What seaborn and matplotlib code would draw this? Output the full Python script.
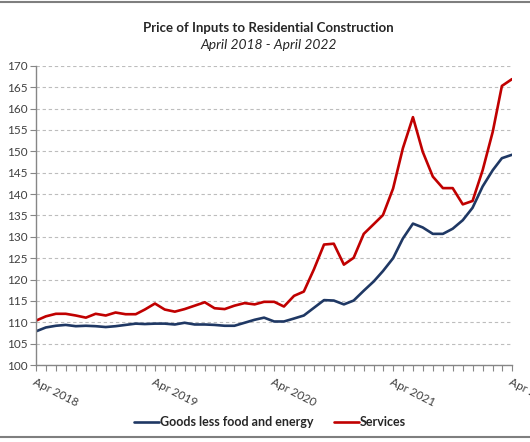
import numpy as np
import pandas as pd
import matplotlib
matplotlib.use("Agg")
import matplotlib.pyplot as plt
import matplotlib.dates as mdates
from matplotlib.lines import Line2D
import seaborn as sns

# monthly index values, Apr 2018 - Apr 2022
months = pd.date_range("2018-04-01", "2022-04-01", freq="MS")
goods = [107.9, 108.8, 109.2, 109.4, 109.1, 109.2, 109.1, 108.9, 109.1, 109.4,
         109.7, 109.6, 109.7, 109.7, 109.5, 109.9, 109.5, 109.5, 109.4, 109.2,
         109.2, 109.9, 110.6, 111.1, 110.2, 110.2, 110.9, 111.6, 113.4, 115.2,
         115.1, 114.2, 115.1, 117.4, 119.6, 122.0, 125.0, 129.6, 133.1, 132.2,
         130.7, 130.7, 131.9, 133.9, 136.8, 141.8, 145.6, 148.4, 149.2]
services = [110.4, 111.4, 112.0, 112.0, 111.6, 111.1, 112.0, 111.6, 112.3, 111.9,
            111.9, 113.0, 114.4, 113.0, 112.5, 113.1, 113.9, 114.7, 113.3, 113.1,
            113.9, 114.5, 114.2, 114.8, 114.8, 113.7, 116.2, 117.2, 122.4, 128.2,
            128.4, 123.5, 125.1, 130.7, 133.0, 135.1, 141.3, 150.7, 158.0, 149.9,
            144.1, 141.4, 141.4, 137.6, 138.4, 145.6, 154.6, 165.3, 166.9]
series_names = ["Goods less food and energy", "Services"]
colors = ["#1F3864", "#C00000"]

df = pd.DataFrame({
    "month": list(months) * 2,
    "value": goods + services,
    "series": [series_names[0]] * len(months) + [series_names[1]] * len(months),
})

sns.set_style("white")
plt.rcParams["font.family"] = ["Lato", "DejaVu Sans"]

fig = plt.figure(figsize=(5.3, 4.42), dpi=100)
ax = fig.add_axes([0.068, 0.174, 0.898, 0.677])

sns.lineplot(data=df, x="month", y="value", hue="series", palette=colors,
             linewidth=1.9, ax=ax, legend=False)

ax.set_ylim(100, 170)
ax.set_yticks(np.arange(100, 171, 5))
ax.set_xlim(months[0], months[-1])
ax.xaxis.set_major_locator(mdates.MonthLocator(bymonth=4))
ax.xaxis.set_minor_locator(mdates.MonthLocator())
ax.xaxis.set_major_formatter(mdates.DateFormatter("%b %Y"))
ax.set_xlabel("")
ax.set_ylabel("")

ax.grid(axis="y", linestyle=(0, (3, 2.5)), color="#BDBDBD", linewidth=0.8)
ax.set_axisbelow(True)
for side in ["top", "right"]:
    ax.spines[side].set_visible(False)
for side in ["left", "bottom"]:
    ax.spines[side].set_color("#868686")
    ax.spines[side].set_linewidth(1.0)

ax.tick_params(axis="y", which="major", left=True, length=4, width=0.8,
               color="#868686", labelsize=8.5, labelcolor="#404040", pad=2)
ax.tick_params(axis="x", which="both", bottom=True, length=4, width=0.8,
               color="#868686", direction="out")
ax.tick_params(axis="x", which="major", labelsize=8.5, labelcolor="#404040", pad=4)
for lbl in ax.get_xticklabels():
    lbl.set_rotation(-27)
    lbl.set_ha("left")
    lbl.set_va("top")
    lbl.set_rotation_mode("anchor")

fig.text(0.506, 0.937, "Price of Inputs to Residential Construction",
         ha="center", va="center", fontsize=9.5, fontweight="bold", color="#262626")
fig.text(0.506, 0.898, "April 2018 - April 2022", ha="center", va="center",
         fontsize=10, style="italic", color="#262626")

handles = [Line2D([0], [0], color=c, lw=1.9) for c in colors]
fig.legend(handles, series_names, loc="center", bbox_to_anchor=(0.51, 0.045),
           ncol=2, frameon=False, handlelength=2.0, handletextpad=0.1,
           columnspacing=1.6, prop={"size": 9, "weight": "bold"})

# border lines of the chart box
fig.add_artist(Line2D([0, 1], [0.995, 0.995], color="#7F7F7F", lw=1.5))
fig.add_artist(Line2D([0, 1], [0.012, 0.012], color="#7F7F7F", lw=1.5))

fig.savefig("out.png", dpi=100)
